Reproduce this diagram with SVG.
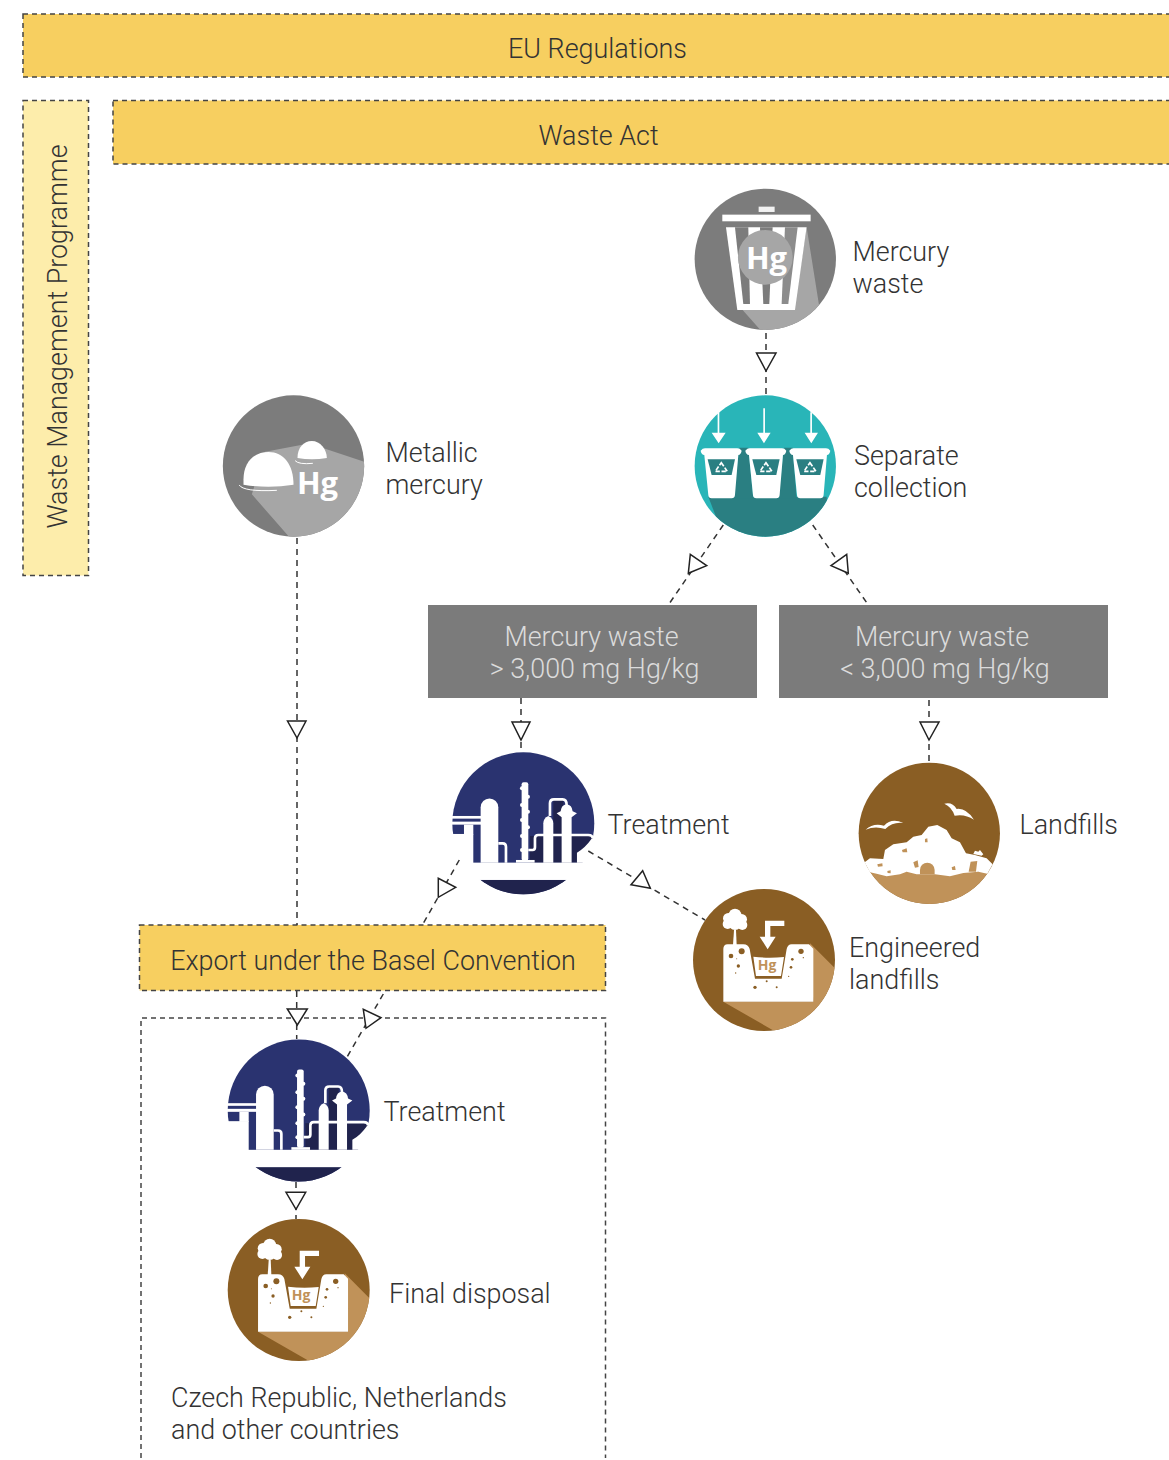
<svg xmlns="http://www.w3.org/2000/svg" width="1169" height="1460" viewBox="0 0 1169 1460">
<style>
text{font-family:Roboto,"Liberation Sans",sans-serif;font-weight:300;font-size:26.900px;fill:#333}
.mid{text-anchor:middle}
.lt{fill:#dcdcdc}
text.hg{font-family:"Open Sans","Liberation Sans",sans-serif;font-weight:700;fill:#fff;text-anchor:middle;font-size:31px}
text.hgb{font-family:"Open Sans","Liberation Sans",sans-serif;font-weight:700;fill:#c09259;text-anchor:middle;font-size:14px}
.dash{stroke:#444;stroke-width:1.500;stroke-dasharray:5 4}
.con{fill:none;stroke:#333;stroke-width:1.500;stroke-dasharray:6 5}
.tri{fill:#fff;stroke:#222;stroke-width:1.500;stroke-linejoin:miter}
.w{fill:#fff}.ws{fill:none;stroke:#fff}
.br{fill:#8a5e24}.tn{fill:#c09259}
</style>
<defs>
<clipPath id="c1"><circle cx="250" cy="250" r="213"/></clipPath>
<g id="icon-plant"><g clip-path="url(#c1)">
<rect x="0" y="0" width="500" height="500" fill="#2a3370"/>
<rect x="0" y="420" width="500" height="80" fill="#20234d"/>
<rect x="340" y="180" width="30" height="110" fill="#20234d"/>
<rect x="270" y="288" width="190" height="80" fill="#20234d"/>
</g>
<rect x="60" y="368" width="380" height="52" class="w"/>
<rect x="28" y="282" width="72" height="90" class="w"/>
<rect x="28" y="228" width="97" height="8" class="w"/>
<rect x="28" y="245" width="97" height="9" class="w"/>
<rect x="72" y="254" width="28" height="30" class="w"/>
<path class="w" d="M122,368V202a26,26 0 0 1 53,0V368Z"/>
<path class="ws" stroke-width="8" d="M175,310H188Q198,310 198,320V368"/>
<rect x="245" y="127" width="20" height="235" rx="6" class="w"/>
<g class="w"><circle cx="246" cy="145" r="6"/><circle cx="264" cy="170" r="6"/><circle cx="246" cy="195" r="6"/><circle cx="264" cy="215" r="6"/><circle cx="246" cy="240" r="6"/><circle cx="264" cy="262" r="6"/><circle cx="246" cy="288" r="6"/><circle cx="246" cy="330" r="6"/></g>
<rect x="228" y="360" width="56" height="8" class="w"/>
<path class="ws" stroke-width="8" d="M265,330H278Q285,330 285,322V295Q285,285 295,285H445Q458,285 458,295"/>
<path class="w" d="M310,368V250Q310,235 325,228Q340,235 340,250V368Z"/>
<path class="ws" stroke-width="8" d="M330,228V190Q330,178 342,178H368Q380,178 380,195"/>
<path class="w" d="M365,368V232L350,220L362,214Q364,195 380,193Q396,195 398,214L411,220L395,232V368Z"/>
<path class="w" d="M411,368V338Q435,325 456,295H470V368Z"/>
</g>
<clipPath id="c2"><circle cx="237" cy="240" r="213"/></clipPath>
<g id="icon-pit"><circle cx="237" cy="240" r="213" class="br"/><g clip-path="url(#c2)">
<polygon class="tn" points="375,190 460,275 460,460 280,460 115,365 385,365"/></g>
<path class="w" d="M115,365V207Q115,193 128,193H175Q190,193 194,207L210,296H290L305,207Q308,193 320,193H372L385,206V365Z"/>
<path class="w" d="M205,230Q250,236 297,231L288,288H213Z"/>
<path class="w" d="M144,195L147,150H153L155,195Z"/>
<circle class="w" cx="150" cy="105" r="19"/><circle class="w" cx="130" cy="115" r="16"/><circle class="w" cx="170" cy="118" r="16"/><circle class="w" cx="128" cy="132" r="15"/><circle class="w" cx="172" cy="135" r="15"/><circle class="w" cx="150" cy="130" r="20"/>
<path class="w" d="M240,122H298V138H256V170H272L248,208L224,170H240Z"/>
<g class="br"><circle cx="170" cy="214" r="9"/><circle cx="138" cy="228" r="7"/><circle cx="160" cy="258" r="5"/><circle cx="348" cy="214" r="8"/><circle cx="322" cy="238" r="4"/><circle cx="318" cy="262" r="4"/><circle cx="210" cy="322" r="5"/><circle cx="245" cy="304" r="3"/><circle cx="275" cy="322" r="3"/><circle cx="155" cy="236" r="1.500"/><circle cx="152" cy="279" r="2"/><circle cx="355" cy="233" r="2"/><circle cx="311" cy="289" r="2"/></g>
</g>
<clipPath id="c3"><circle cx="238" cy="235" r="212"/></clipPath>
<g id="icon-landfill"><circle cx="238" cy="235" r="212" class="br"/><g clip-path="url(#c3)">
<rect x="0" y="350" width="480" height="115" class="tn"/></g>
<path class="w" d="M44,322L60,310L100,312L105,285L130,268L170,262L190,245L215,240L235,215L262,210L290,225L305,250L330,262L348,295L375,300L410,310L428,328L412,356L385,350L340,354L300,364L255,358L200,358L170,350L150,358L110,364L80,356L60,352Z"/>
<path class="tn" d="M210,358V345a22,22 0 0 1 44,0V358Z"/>
<path class="tn" d="M190,322L203,316L206,336L195,338ZM156,285L170,280L172,292L158,292ZM225,252L232,250L233,262L225,262ZM82,328L97,325L98,334L84,335ZM112,348L122,346L122,355L113,354ZM305,337L315,333L317,345L307,345ZM356,350L362,320L382,318L378,350Z"/>
<path class="w" d="M47,224Q70,203 102,212Q125,188 160,204Q128,200 106,222Q75,212 47,224Z"/>
<path class="w" d="M283,146Q308,140 320,162Q348,158 372,194Q345,176 314,182Q305,155 283,146Z"/>
<path class="w" d="M370,297L375,287L385,290L390,285L400,298L395,302Z"/>
</g>
<clipPath id="c4"><circle cx="250" cy="240" r="212"/></clipPath>
<g id="icon-metal"><circle cx="250" cy="240" r="212" fill="#7c7c7c"/><g clip-path="url(#c4)">
<polygon fill="#a6a6a6" points="165,197 300,172 345,188 470,230 470,470 245,462 125,325"/></g>
<path class="w" d="M100,296V280C100,230 130,198 175,198C220,198 250,235 250,296Q175,308 100,296Z"/>
<path class="w" d="M262,216C262,185 280,165 305,165C330,165 350,190 350,216Q305,224 262,216Z"/>
<path class="ws" stroke-width="3" d="M87,297Q100,318 200,313"/>
<path class="ws" stroke-width="3" d="M255,224Q265,236 308,232"/>
</g>
<clipPath id="c5"><circle cx="256" cy="238" r="212"/></clipPath>
<g id="icon-bin"><circle cx="256" cy="238" r="212" fill="#7c7c7c"/><g clip-path="url(#c5)">
<polygon fill="#a6a6a6" points="380,142 418,380 420,470 250,460 172,372 345,372"/></g>
<rect x="236" y="80" width="48" height="16" fill="#f2f2f2"/>
<rect x="127" y="104" width="265" height="20" class="w"/>
<polygon class="w" points="138,142 380,142 345,390 172,390"/>
<polygon fill="#7c7c7c" points="165,142 205,142 210,372 190,372"/>
<polygon fill="#7c7c7c" points="240,142 278,142 268,372 250,372"/>
<polygon fill="#8c8c8c" points="315,142 353,142 325,372 305,372"/>
<circle cx="256" cy="232" r="82" fill="#a6a6a6"/>
</g>
<clipPath id="c6"><circle cx="256" cy="858" r="212"/></clipPath>
<g id="cup"><path class="w" d="M62,812Q68,805 75,805H172Q180,805 185,812Q183,824 175,825L165,945Q164,955 155,955H95Q86,955 85,945L73,825Q64,824 62,812Z"/>
<polygon points="83,838 165,838 155,885 95,885" fill="#2a7f82"/>
<polygon points="124,848 142,874 106,874" fill="none" stroke="#fff" stroke-width="5" stroke-dasharray="13 5"/></g>
<g id="icon-cups"><circle cx="256" cy="858" r="212" fill="#29b5b8"/><g clip-path="url(#c6)">
<polygon fill="#2a7f82" points="85,950 440,950 450,1080 135,1080"/>
<polygon fill="#2a7f82" points="178,803 205,803 220,955 160,955"/>
<polygon fill="#2a7f82" points="312,803 338,803 350,955 295,955"/></g>
<use href="#cup"/><use href="#cup" x="134"/><use href="#cup" x="266"/>
<path class="w" d="M113,697H118V758H137L116,790L95,758H113Z"/>
<path class="w" d="M250,685H255V758H272L252,790L232,758H250Z"/>
<path class="w" d="M391,697H396V758H414L394,790L374,758H391Z"/>
</g>
</defs>

<g id="eu-regulations"><rect x="23" y="14" width="1150" height="63" fill="#f7cf60" class="dash"/><text x="597.500" y="57.500" class="mid">EU Regulations</text></g>
<g id="waste-act"><rect x="113" y="100.500" width="1060" height="63.500" fill="#f7cf60" class="dash"/><text x="598.500" y="144.500" class="mid">Waste Act</text></g>
<g id="waste-management-programme"><rect x="23" y="100.500" width="65.500" height="475" fill="#fdedab" class="dash"/><text transform="translate(67 336.500) rotate(-90)" class="mid">Waste Management Programme</text></g>
<g id="foreign-box"><path d="M141,1458V1018H605.500V1458" fill="none" class="dash"/></g>

<g id="mercury-waste"><use href="#icon-bin" transform="translate(765.300 259.300) scale(.3333) translate(-256 -238)"/><text x="766.500" y="268.500" class="hg">Hg</text><text x="852.500" y="261">Mercury</text><text x="852.500" y="293">waste</text></g>
<g id="separate-collection"><use href="#icon-cups" transform="translate(765.300 466) scale(.3333) translate(-256 -858)"/><text x="854" y="465">Separate</text><text x="854" y="497">collection</text></g>
<g id="metallic-mercury"><use href="#icon-metal" transform="translate(293.500 466) scale(.3333) translate(-250 -240)"/><text x="317.500" y="494" class="hg">Hg</text><text x="385.500" y="462">Metallic</text><text x="385.500" y="494">mercury</text></g>
<g id="high-hg"><rect x="428" y="605" width="329" height="93" fill="#7b7b7b"/><text x="591.500" y="646" class="mid lt">Mercury waste</text><text x="594.500" y="678" class="mid lt">&gt; 3,000 mg Hg/kg</text></g>
<g id="low-hg"><rect x="779" y="605" width="329" height="93" fill="#7b7b7b"/><text x="942" y="646" class="mid lt">Mercury waste</text><text x="945" y="678" class="mid lt">&lt; 3,000 mg Hg/kg</text></g>
<g id="treatment"><use href="#icon-plant" transform="translate(523.300 823.300) scale(.3333) translate(-250 -250)"/><text x="607.500" y="834">Treatment</text></g>
<g id="landfills"><use href="#icon-landfill" transform="translate(929.300 833.300) scale(.3333) translate(-238 -235)"/><text x="1019.500" y="834">Landfills</text></g>
<g id="engineered-landfills"><use href="#icon-pit" transform="translate(764 960) scale(.3333) translate(-237 -240)"/><text x="767" y="970" class="hgb">Hg</text><text x="849" y="957">Engineered</text><text x="849" y="989">landfills</text></g>
<g id="export"><rect x="139.500" y="925" width="466" height="65.500" fill="#f7cf60" class="dash"/><text x="373" y="969.500" class="mid">Export under the Basel Convention</text></g>
<g id="treatment-abroad"><use href="#icon-plant" transform="translate(298.700 1110.500) scale(.3333) translate(-250 -250)"/><text x="383.500" y="1121">Treatment</text></g>
<g id="final-disposal"><use href="#icon-pit" transform="translate(298.700 1290) scale(.3333) translate(-237 -240)"/><text x="301" y="1300" class="hgb">Hg</text><text x="389" y="1303">Final disposal</text></g>
<g id="countries"><text x="171" y="1407">Czech Republic, Netherlands</text><text x="171" y="1439">and other countries</text></g>

<g id="connectors">
<path class="con" d="M766,333V395"/><polygon class="tri" points="756.500,353 776,353 766,371"/>
<path class="con" d="M723.300,525L668.300,605"/><polygon class="tri" points="690.300,554.300 706.700,565.700 688.300,573.300"/>
<path class="con" d="M812.700,525L868.300,605"/><polygon class="tri" points="846.700,554.300 848.300,573.300 831,565.700"/>
<path class="con" d="M297,538V925"/><polygon class="tri" points="287.500,721 306,721 297,738"/>
<path class="con" d="M521,698V752"/><polygon class="tri" points="512,722 530,722 521,740"/>
<path class="con" d="M929,700V763"/><polygon class="tri" points="920,722 939,722 929,740"/>
<path class="con" d="M459.300,860L423.300,923.300"/><polygon class="tri" points="438.300,878.300 438.300,897.300 455.700,887.300"/>
<path class="con" d="M588.300,851L705,920"/><polygon class="tri" points="642.700,870.700 650.300,888.300 631,884.700"/>
<path class="con" d="M296.700,991V1039"/><polygon class="tri" points="287.300,1009 307.300,1009 297.300,1025"/>
<path class="con" d="M383.300,994L347.300,1056.700"/><polygon class="tri" points="363.300,1009.300 366,1028.300 381,1017.700"/>
<path class="con" d="M296,1182V1219"/><polygon class="tri" points="286,1192.300 305.700,1192.300 296,1209.300"/>
</g>
</svg>
